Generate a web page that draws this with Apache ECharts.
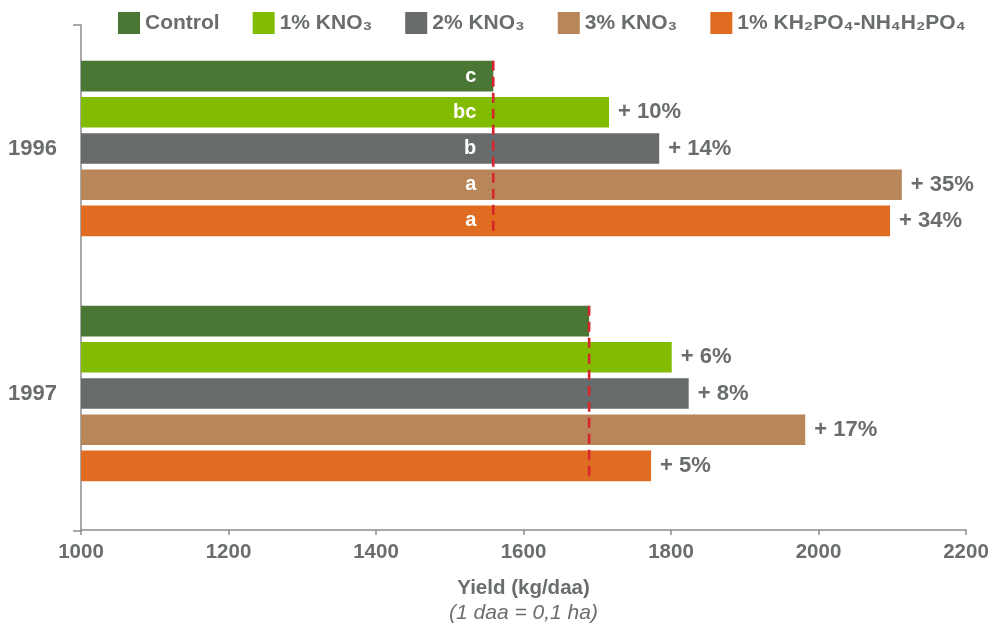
<!DOCTYPE html>
<html><head><meta charset="utf-8">
<script src="https://cdn.jsdelivr.net/npm/echarts@6/dist/echarts.min.js"></script>
<style>html,body{margin:0;padding:0;background:#fff}#c{width:996px;height:629px}</style>
</head><body><div id="c"></div>
<script>
// ---- data ----
const years = ['1996', '1997'];
const seriesNames = ['Control', '1% KNO₃', '2% KNO₃', '3% KNO₃', '1% KH₂PO₄-NH₄H₂PO₄'];
const control = [1559, 1689];
const kno3_1 = [1716, 1801];
const kno3_2 = [1784, 1824];
const kno3_3 = [2113, 1982];
const khp = [2097, 1773];
const pctControl = ['', ''];
const pctKno3_1 = ['+ 10%', '+ 6%'];
const pctKno3_2 = ['+ 14%', '+ 8%'];
const pctKno3_3 = ['+ 35%', '+ 17%'];
const pctKhp = ['+ 34%', '+ 5%'];
const letters1996 = ['c', 'bc', 'b', 'a', 'a'];
const letters1997 = ['', '', '', '', ''];
const xMin = 1000, xMax = 2200, xStep = 200;

// ---- style ----
const colors = ['#4a7636', '#82bc00', '#676b6b', '#b9865a', '#e06c22'];
const GRAY = '#6a6d6e';
const AXIS = '#8c8c8c';
const RED = '#d8262e';
const FONT = '"Liberation Sans", Arial, sans-serif';
const BAR_W = 30.7;
const BAR_GAP = 0.18;

const values = [control, kno3_1, kno3_2, kno3_3, khp];
const pcts = [pctControl, pctKno3_1, pctKno3_2, pctKno3_3, pctKhp];
const lettersByYear = [letters1996, letters1997];

const barSeries = seriesNames.map((name, s) => ({
  name: name,
  type: 'bar',
  xAxisIndex: 0, yAxisIndex: 0,
  data: values[s],
  barWidth: BAR_W,
  barGap: (BAR_GAP * 100) + '%',
  itemStyle: { color: colors[s] },
  label: {
    show: true,
    position: 'right',
    distance: 9,
    formatter: p => pcts[s][p.dataIndex],
    color: GRAY,
    fontFamily: FONT,
    fontWeight: 'bold',
    fontSize: 22
  },
  emphasis: { disabled: true },
  animation: false
}));

function renderRef(params, api) {
  const v = api.value(0), idx = api.value(1);
  const c = api.coord([v, idx]);
  const n = seriesNames.length;
  const pitch = BAR_W * (1 + BAR_GAP);
  const groupH = BAR_W * n + BAR_W * BAR_GAP * (n - 1);
  const top = c[1] - groupH / 2;
  const children = [{
    type: 'line',
    shape: { x1: c[0], y1: top, x2: c[0], y2: top + groupH },
    style: { stroke: RED, lineWidth: 2.6, lineDash: [10, 6] }
  }];
  lettersByYear[idx].forEach((t, i) => {
    if (!t) return;
    children.push({
      type: 'text',
      x: c[0] - 17,
      y: top + BAR_W / 2 + i * pitch,
      style: {
        text: t, fill: '#ffffff', fontFamily: FONT, fontWeight: 'bold', fontSize: 20,
        align: 'right', verticalAlign: 'middle'
      }
    });
  });
  return { type: 'group', children: children };
}

const option = {
  backgroundColor: '#ffffff',
  animation: false,
  legend: {
    data: seriesNames,
    left: 118, top: 12, padding: 0,
    itemWidth: 22, itemHeight: 22, itemGap: 33,
    icon: 'rect',
    selectedMode: false,
    textStyle: { color: GRAY, fontFamily: FONT, fontWeight: 'bold', fontSize: 21 }
  },
  grid: [
    { left: 81, right: 30, top: 26, bottom: 112 },
    { left: 81, right: 30, top: 25, bottom: 98 }
  ],
  xAxis: [{
    gridIndex: 0,
    type: 'value', min: xMin, max: xMax, interval: xStep,
    offset: 14,
    axisLine: { show: true, lineStyle: { color: AXIS, width: 1.5 } },
    axisTick: { show: true, length: 5, lineStyle: { color: AXIS, width: 1.5 } },
    axisLabel: { color: GRAY, fontFamily: FONT, fontWeight: 'bold', fontSize: 20.5, margin: 12,
      formatter: v => String(v) },
    splitLine: { show: false },
    name: '{a|Yield (kg/daa)}\n{b|(1 daa = 0,1 ha)}',
    nameLocation: 'middle',
    nameGap: 46,
    nameTextStyle: {
      rich: {
        a: { color: GRAY, fontFamily: FONT, fontWeight: 'bold', fontSize: 20.5, lineHeight: 25 },
        b: { color: GRAY, fontFamily: FONT, fontStyle: 'italic', fontSize: 21, lineHeight: 25 }
      }
    }
  }, {
    gridIndex: 1, type: 'value', min: 0, max: 1, show: false
  }],
  yAxis: [{
    gridIndex: 0,
    type: 'category', data: years, inverse: true,
    axisLine: { show: false }, axisTick: { show: false },
    axisLabel: { color: GRAY, fontFamily: FONT, fontWeight: 'bold', fontSize: 22, margin: 24 }
  }, {
    gridIndex: 1,
    type: 'value', min: 0, max: 1, interval: 1,
    axisLine: { show: true, lineStyle: { color: AXIS, width: 1.5 } },
    axisTick: { show: true, length: 8, lineStyle: { color: AXIS, width: 1.5 } },
    axisLabel: { show: false },
    splitLine: { show: false }
  }],
  series: barSeries.concat([{
    type: 'custom',
    xAxisIndex: 0, yAxisIndex: 0,
    data: control.map((v, i) => [v, i]),
    encode: { x: 0, y: 1 },
    renderItem: renderRef,
    z: 5,
    silent: true
  }])
};

const chart = echarts.init(document.getElementById('c'), null, { renderer: 'canvas' });
chart.setOption(option);
</script>
</body></html>
